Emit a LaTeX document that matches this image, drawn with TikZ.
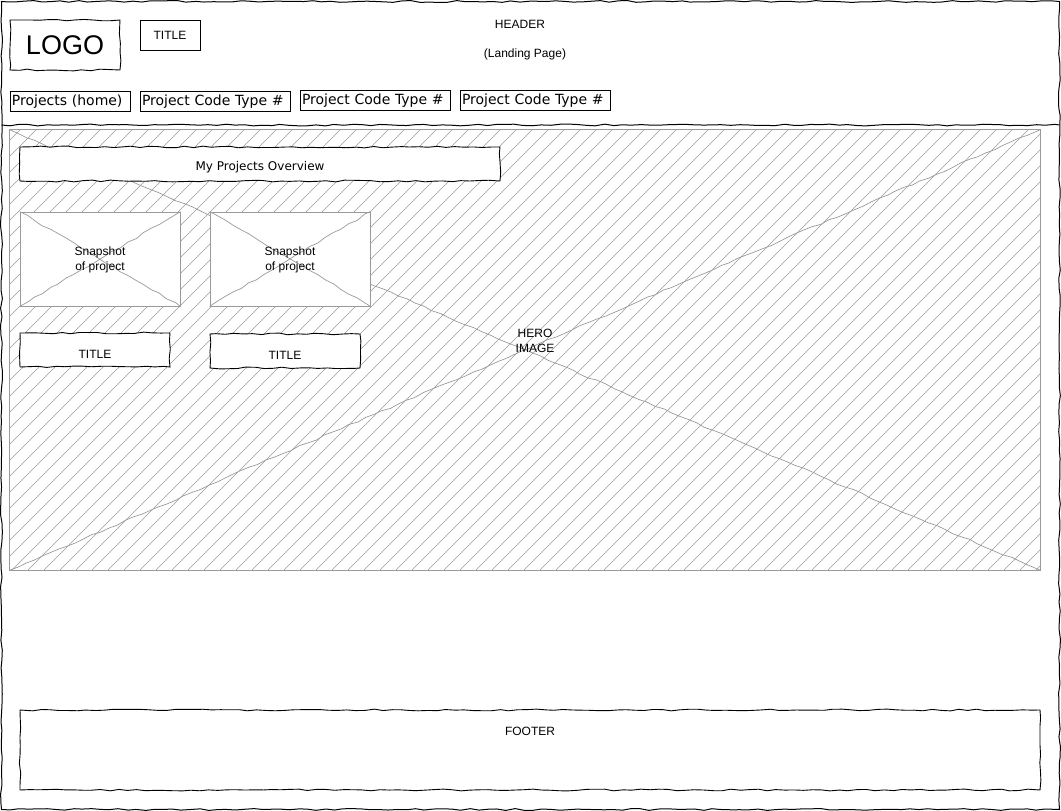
\documentclass[tikz,border=0pt]{standalone}
\usepackage{fontspec}
\setmainfont{Liberation Sans}
\newfontfamily\navfont{DejaVu Sans}
\usetikzlibrary{decorations.pathmorphing}
\pgfmathsetseed{7}
\definecolor{wgray}{HTML}{9A9A9A}
\tikzset{
  sketch/.style={decorate,decoration={random steps,segment length=9pt,amplitude=0.9pt}},
  sketchbox/.style={draw=black,fill=white,line width=0.9pt,sketch,inner sep=0pt},
  plainbox/.style={draw=black,fill=white,line width=0.8pt,inner sep=0pt},
  navbox/.style={draw=black,fill=white,line width=0.8pt,inner xsep=2pt,inner ysep=0pt,
    text width=#1,align=left,minimum height=20pt,text depth=1pt,font=\navfont\fontsize{14}{16}\selectfont},
  graybox/.style={draw=wgray,fill=white,line width=0.8pt,inner sep=0pt},
  grayline/.style={draw=wgray,line width=0.7pt},
  hatch/.style={draw=wgray,line width=0.6pt},
  lbl/.style={font=\fontsize{12}{15}\selectfont,align=center,inner sep=0pt},
}
\begin{document}
\begin{tikzpicture}[x=1pt,y=-1pt]
\useasboundingbox (0,0) rectangle (1061,811);
% outer frame and header separator
\draw[line width=1pt,sketch] (1.5,1.5) rectangle (1059.5,809.5);
\coordinate (sepL) at (1.5,125);
\coordinate (sepR) at (1059.5,125);
\draw[line width=1pt,sketch] (sepL) -- (sepR);

% header
\node[sketchbox,minimum width=110pt,minimum height=50pt,font=\fontsize{27}{30}\selectfont] (logo) at (65,45) {LOGO};
\node[plainbox,minimum width=60pt,minimum height=30pt,font=\fontsize{12}{14}\selectfont] (htitle) at (170,35) {TITLE};
\node[lbl] (header) at (520,24) {HEADER};
\node[lbl] (landing) at (525,54) {(Landing Page)};

\node[navbox=116pt] (nav1) at (70,101) {Projects (home)};
\node[navbox=146pt] (nav2) at (215,101) {Project Code Type \#};
\node[navbox=146pt] (nav3) at (375,100) {Project Code Type \#};
\node[navbox=146pt] (nav4) at (535,100) {Project Code Type \#};

% hero image
\node[inner sep=0pt,minimum width=1030pt,minimum height=440pt] (hero) at (525,350) {};
\begin{scope}
\clip (hero.north west) rectangle (hero.south east);
\foreach \i in {-452,-436,...,1050} \draw[hatch] (\i,570) -- ++(440,-440);
\end{scope}
\draw[draw=wgray,line width=0.9pt] (hero.north west) rectangle (hero.south east);
\draw[grayline,sketch] (hero.north west) -- (hero.south east);
\draw[grayline,sketch] (hero.south west) -- (hero.north east);
\node[lbl] (herolbl) at (535,341) {HERO\\IMAGE};

% overview
\node[sketchbox,minimum width=480pt,minimum height=34pt] (overview) at (260,164) {};
\node[inner sep=0pt,font=\navfont\fontsize{12}{14}\selectfont] (overviewlbl) at (260,167) {My Projects Overview};

% snapshots
\node[graybox,minimum width=160pt,minimum height=94pt] (snap1) at (100,259) {};
\draw[grayline,sketch] (snap1.north west) -- (snap1.south east);
\draw[grayline,sketch] (snap1.south west) -- (snap1.north east);
\node[lbl] (snap1lbl) at (100,260) {Snapshot\\of project};

\node[graybox,minimum width=160pt,minimum height=94pt] (snap2) at (290,259) {};
\draw[grayline,sketch] (snap2.north west) -- (snap2.south east);
\draw[grayline,sketch] (snap2.south west) -- (snap2.north east);
\node[lbl] (snap2lbl) at (290,260) {Snapshot\\of project};

% titles
\node[sketchbox,minimum width=150pt,minimum height=34pt] (title1) at (95,350) {};
\node[lbl] (title1lbl) at (95,354) {TITLE};
\node[sketchbox,minimum width=150pt,minimum height=34pt] (title2) at (285,351) {};
\node[lbl] (title2lbl) at (285,355) {TITLE};

% footer
\node[sketchbox,minimum width=1020pt,minimum height=80pt] (footer) at (530,750) {};
\node[lbl] (footerlbl) at (530,731) {FOOTER};
\end{tikzpicture}
\end{document}
